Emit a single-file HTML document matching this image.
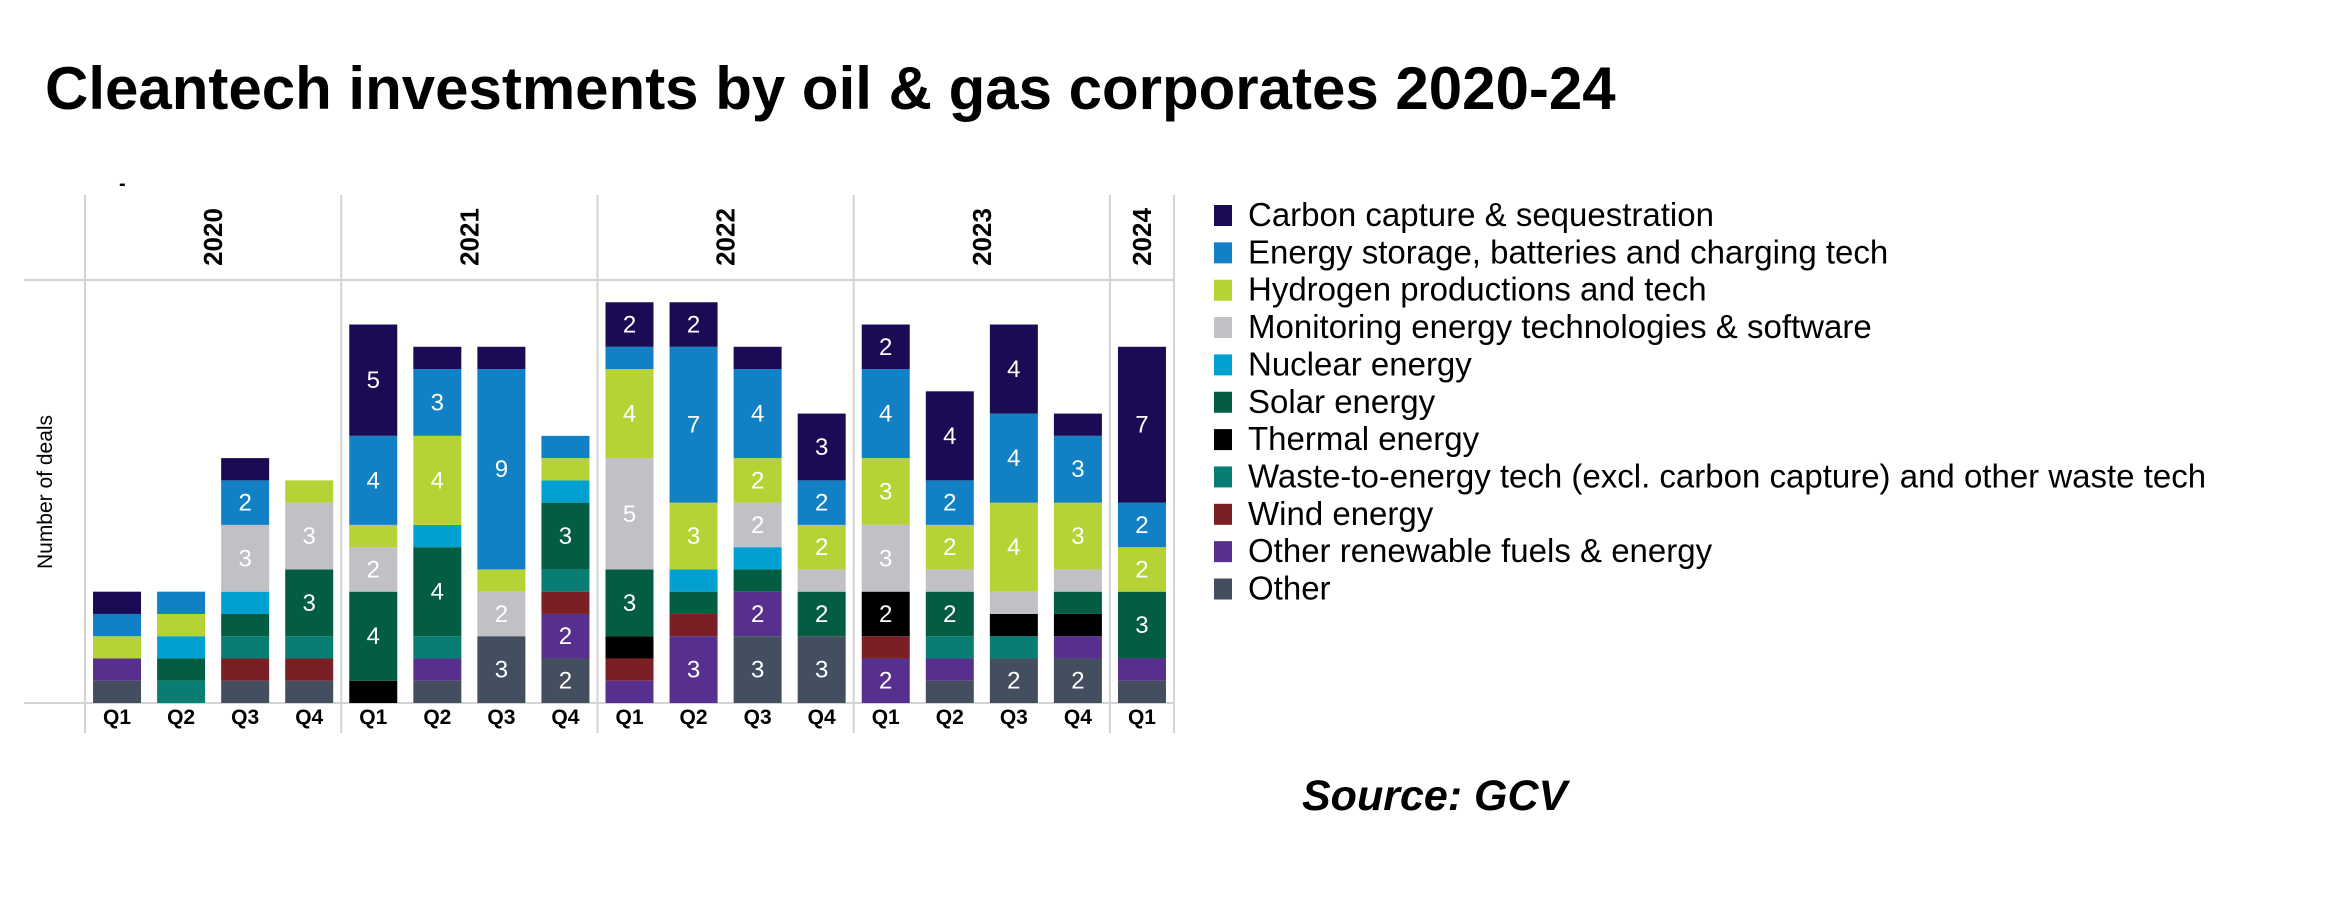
<!DOCTYPE html>
<html><head><meta charset="utf-8"><style>
body{margin:0;background:#fff;}
svg{display:block;font-family:"Liberation Sans",Arial,sans-serif;}
</style></head><body>
<svg id="chart" width="2340" height="910" viewBox="0 0 2340 910" xmlns="http://www.w3.org/2000/svg">
<rect width="2340" height="910" fill="#fff"/>
<text x="45" y="109" font-size="60" font-weight="bold" fill="#000">Cleantech investments by oil &amp; gas corporates 2020-24</text>
<text x="119" y="190" font-size="20" font-weight="bold" fill="#000">-</text>
<text transform="translate(52,492) rotate(-90)" text-anchor="middle" font-size="21" fill="#000">Number of deals</text>
<text x="1302" y="810" font-size="43" font-weight="bold" font-style="italic" fill="#000">Source: GCV</text>
<g id="grid"></g>
<g id="bars"></g>
<g id="legend"></g>
</svg>
<script>
const years = ["2020","2021","2022","2023","2024"];
const yearQuarters = [4,4,4,4,1];
const quarters = ["Q1","Q2","Q3","Q4","Q1","Q2","Q3","Q4","Q1","Q2","Q3","Q4","Q1","Q2","Q3","Q4","Q1"];
const seriesNames = ["Other","Other renewable fuels & energy","Wind energy","Waste-to-energy tech (excl. carbon capture) and other waste tech","Thermal energy","Solar energy","Nuclear energy","Monitoring energy technologies & software","Hydrogen productions and tech","Energy storage, batteries and charging tech","Carbon capture & sequestration"];
const seriesColors = ["#434f5e","#57308f","#7a1f24","#077d73","#000000","#035d43","#00a1d0","#c0c0c5","#b5d334","#1280c4","#1a0b54"];
const other      = [1,0,1,1,0,1,3,2,0,0,3,3,0,1,2,2,1];
const renewable  = [1,0,0,0,0,1,0,2,1,3,2,0,2,1,0,1,1];
const wind       = [0,0,1,1,0,0,0,1,1,1,0,0,1,0,0,0,0];
const waste      = [0,1,1,1,0,1,0,1,0,0,0,0,0,1,1,0,0];
const thermal    = [0,0,0,0,1,0,0,0,1,0,0,0,2,0,1,1,0];
const solar      = [0,1,1,3,4,4,0,3,3,1,1,2,0,2,0,1,3];
const nuclear    = [0,1,1,0,0,1,0,1,0,1,1,0,0,0,0,0,0];
const monitoring = [0,0,3,3,2,0,2,0,5,0,2,1,3,1,1,1,0];
const hydrogen   = [1,1,0,1,1,4,1,1,4,3,2,2,3,2,4,3,2];
const storage    = [1,1,2,0,4,3,9,1,1,7,4,2,4,2,4,3,2];
const carbon     = [1,0,1,0,5,1,1,0,2,2,1,3,2,4,4,1,7];
const seriesValues = [other,renewable,wind,waste,thermal,solar,nuclear,monitoring,hydrogen,storage,carbon];
const yMax = 19;

const NS="http://www.w3.org/2000/svg";
const plotL=85, plotR=1174, plotTop=280, base=703, hdrTop=195, axBot=733;
const colW=(plotR-plotL)/quarters.length, barW=48;
const y=v=>base-(v/yMax)*(base-plotTop);
const x=i=>plotL+i*colW+colW/2;
function mk(tag,attrs,parent){const e=document.createElementNS(NS,tag);for(const k in attrs)e.setAttribute(k,attrs[k]);parent.appendChild(e);return e;}

const grid=document.getElementById('grid');
let l=mk('line',{x1:24,x2:plotR,y1:plotTop,y2:plotTop,stroke:'#d4d4d4','stroke-width':2},grid);


l=mk('line',{x1:24,x2:plotR,y1:base,y2:base,stroke:'#d4d4d4','stroke-width':2},grid);


let idx=0;
const seps=[0];
yearQuarters.forEach(n=>{idx+=n;seps.push(idx);});
seps.forEach(s=>{
  const xx=plotL+s*colW;
  const ln=mk('line',{x1:xx,x2:xx,y1:hdrTop,y2:axBot,stroke:'#d4d4d4','stroke-width':2},grid);
  
  
});
years.forEach((yr,i)=>{
  const cx=plotL+(seps[i]+seps[i+1])/2*colW;
  const t=mk('text',{transform:`translate(${cx+9},237) rotate(-90)`,'text-anchor':'middle','font-size':26,'font-weight':'bold',fill:'#000'},grid);
  t.textContent=yr;
  
  
});
quarters.forEach((q,i)=>{
  const t=mk('text',{x:x(i),y:724,'text-anchor':'middle','font-size':21,'font-weight':'bold',fill:'#000'},grid);
  t.textContent=q;
  
  
});

const bars=document.getElementById('bars');
quarters.forEach((q,i)=>{
  let cum=0;
  seriesValues.forEach((arr,s)=>{
    const v=arr[i]; if(!v) return;
    const y0=y(cum), y1=y(cum+v);
    const r=mk('rect',{x:x(i)-barW/2,y:y1,width:barW,height:y0-y1,fill:seriesColors[s]},bars);
    
    
    if(v>=2){
      const t=mk('text',{x:x(i),y:(y0+y1)/2+8,'text-anchor':'middle','font-size':24,fill:'#fff'},bars);
      t.textContent=v;
      
      
    }
    cum+=v;
  });
});

const legend=document.getElementById('legend');
for(let k=0;k<seriesNames.length;k++){
  const s=seriesNames.length-1-k;
  const cy=215+k*37.35;
  const r=mk('rect',{x:1214,y:cy-10,width:18,height:21,fill:seriesColors[s]},legend);
  
  
  const t=mk('text',{x:1248,y:cy+11,'font-size':33,fill:'#000'},legend);
  t.textContent=seriesNames[s];
  
  
}
</script>
</body></html>
